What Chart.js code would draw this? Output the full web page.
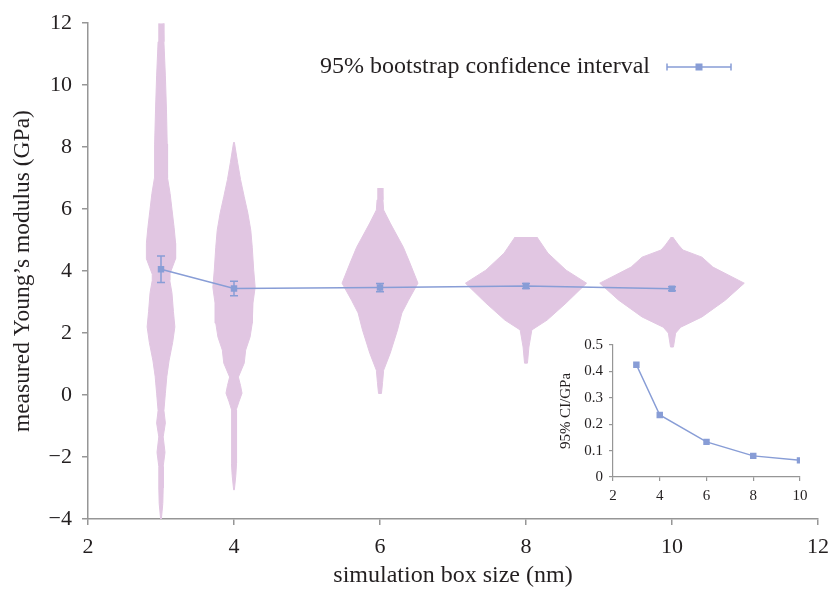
<!DOCTYPE html>
<html><head><meta charset="utf-8">
<script src="https://cdn.jsdelivr.net/npm/chart.js@4.4.0/dist/chart.umd.min.js"></script>
<style>
html,body{margin:0;padding:0;background:#fff;}
#wrap{position:relative;width:830px;height:590px;}
#main{position:absolute;left:0;top:0;}
#inset{position:absolute;left:540px;top:325px;}
</style></head><body>
<div id="wrap"><canvas id="main" width="830" height="590"></canvas><canvas id="inset" width="280" height="190"></canvas></div>
<script>
// ---- data ----
const boxSizes = [3, 4, 6, 8, 10];
const meanModulus = [4.06, 3.44, 3.47, 3.52, 3.43];
const ciHalfWidth = [0.425, 0.235, 0.133, 0.08, 0.063];
const xTicks = [2, 4, 6, 8, 10, 12];
const yTicks = [-4, -2, 0, 2, 4, 6, 8, 10, 12];
const insetXTicks = [2, 4, 6, 8, 10];
const insetYTicks = [0, 0.1, 0.2, 0.3, 0.4, 0.5];

// violin outlines: modulus levels and half widths (nm units)
const violin3Y = [12, 11.4, 10.3, 9.2, 8.1, 7.6, 7.0, 6.5, 6.0, 5.4, 4.9, 4.4, 3.9, 3.7, 3.3, 2.7, 2.2, 1.7, 1.1, 0.6, 0.06, -0.5, -0.9, -1.35, -1.85, -2.3, -3.0, -3.5, -4.0];
const violin3W = [0.03, 0.04, 0.06, 0.075, 0.085, 0.09, 0.09, 0.125, 0.15, 0.18, 0.2, 0.2, 0.12, 0.12, 0.15, 0.17, 0.19, 0.16, 0.11, 0.08, 0.06, 0.04, 0.06, 0.03, 0.055, 0.03, 0.03, 0.025, 0.005];
const violin4Y = [8.16, 7.5, 6.95, 6.4, 5.87, 5.32, 4.77, 4.03, 3.48, 2.97, 2.32, 1.87, 1.45, 1.03, 0.58, 0.3, 0.06, -0.2, -0.48, -1.1, -2.2, -2.6, -3.06];
const violin4W = [0.005, 0.05, 0.09, 0.14, 0.19, 0.23, 0.25, 0.27, 0.29, 0.26, 0.25, 0.22, 0.16, 0.14, 0.06, 0.09, 0.11, 0.07, 0.03, 0.035, 0.035, 0.025, 0.005];
const violin6Y = [6.68, 6.3, 5.97, 5.55, 4.77, 4.26, 3.61, 3.06, 2.65, 2.1, 1.35, 0.8, 0.4, 0.05];
const violin6W = [0.03, 0.04, 0.05, 0.14, 0.32, 0.41, 0.52, 0.39, 0.3, 0.24, 0.14, 0.05, 0.035, 0.02];
const violin8Y = [5.1, 4.58, 4.03, 3.61, 2.97, 2.42, 2.1, 1.55, 1.03];
const violin8W = [0.15, 0.3, 0.55, 0.83, 0.55, 0.29, 0.08, 0.04, 0.02];
const violin10Y = [5.1, 4.84, 4.68, 4.45, 4.13, 3.61, 3.06, 2.52, 2.19, 2.0, 1.55];
const violin10W = [0.01, 0.09, 0.15, 0.41, 0.56, 0.99, 0.73, 0.41, 0.12, 0.05, 0.02];

const legendText = '95% bootstrap confidence interval';
const xTitle = 'simulation box size (nm)';
const yTitle = 'measured Young\u2019s modulus (GPa)';
const insetYTitle = '95% CI/GPa';

// ---- styles ----
const SERIF = "'Liberation Serif', 'Times New Roman', serif";
const PINK = 'rgb(225,198,226)';
const BLUE = 'rgb(136,157,214)';
const AXIS = 'rgb(150,150,150)';
const TEXT = '#231f20';

function violinContour(center, ys, ws) {
  const pts = [];
  for (let i = 0; i < ys.length; i++) pts.push({x: center + ws[i], y: ys[i]});
  for (let i = ys.length - 1; i >= 0; i--) pts.push({x: center - ws[i], y: ys[i]});
  return pts;
}
function fmt(v) { return v < 0 ? '\u2212' + Math.abs(v) : String(v); }

const violins = [
  [3, violin3Y, violin3W], [4, violin4Y, violin4W], [6, violin6Y, violin6W],
  [8, violin8Y, violin8W], [10, violin10Y, violin10W]
];

const errorBarPlugin = {
  id: 'errorBars',
  afterDatasetsDraw(chart) {
    const xs = chart.scales.x, ys = chart.scales.y, ctx = chart.ctx;
    ctx.save();
    ctx.strokeStyle = BLUE; ctx.lineWidth = 1.5;
    boxSizes.forEach((b, i) => {
      const px = xs.getPixelForValue(b);
      const t = ys.getPixelForValue(meanModulus[i] + ciHalfWidth[i]);
      const btm = ys.getPixelForValue(meanModulus[i] - ciHalfWidth[i]);
      ctx.beginPath();
      ctx.moveTo(px, t); ctx.lineTo(px, btm);
      ctx.moveTo(px - 4, t); ctx.lineTo(px + 4, t);
      ctx.moveTo(px - 4, btm); ctx.lineTo(px + 4, btm);
      ctx.stroke();
    });
    ctx.restore();
  }
};

const legendPlugin = {
  id: 'customLegend',
  afterDraw(chart) {
    const ctx = chart.ctx;
    const y = 67;
    ctx.save();
    ctx.font = '24px ' + SERIF;
    ctx.fillStyle = TEXT;
    ctx.textBaseline = 'middle';
    ctx.textAlign = 'right';
    ctx.fillText(legendText, 650, y);
    ctx.strokeStyle = BLUE; ctx.lineWidth = 1.5;
    ctx.beginPath();
    ctx.moveTo(667, y); ctx.lineTo(731, y);
    ctx.moveTo(667, y - 3.5); ctx.lineTo(667, y + 3.5);
    ctx.moveTo(731, y - 3.5); ctx.lineTo(731, y + 3.5);
    ctx.stroke();
    ctx.fillStyle = BLUE;
    ctx.fillRect(699 - 3.5, y - 3.5, 7, 7);
    ctx.restore();
  }
};

const datasets = [{
  label: 'CI',
  data: boxSizes.map((b, i) => ({x: b, y: meanModulus[i]})),
  showLine: true,
  borderColor: BLUE,
  backgroundColor: BLUE,
  borderWidth: 1.5,
  pointStyle: 'rect',
  pointRadius: 3.5,
  fill: false
}];
violins.forEach(([c, ys, ws]) => {
  datasets.push({
    label: 'violin ' + c,
    data: violinContour(c, ys, ws),
    showLine: true,
    borderColor: PINK,
    backgroundColor: PINK,
    borderWidth: 1,
    pointRadius: 0,
    fill: 'shape',
    tension: 0
  });
});

new Chart(document.getElementById('main'), {
  type: 'scatter',
  data: {datasets},
  plugins: [errorBarPlugin, legendPlugin],
  options: {
    responsive: false,
    animation: false,
    layout: {padding: {top: 22, right: 12, left: 0, bottom: 0}},
    plugins: {legend: {display: false}, tooltip: {enabled: false}},
    scales: {
      x: {
        type: 'linear', min: 2, max: 12,
        afterBuildTicks: s => { s.ticks = xTicks.map(v => ({value: v})); },
        afterFit: s => { s.height = 71; s.paddingRight = 0; s.paddingLeft = 0; },
        ticks: {font: {family: SERIF, size: 22}, color: TEXT, padding: 9, callback: v => fmt(v), maxRotation: 0},
        grid: {drawOnChartArea: false, color: AXIS, tickLength: 6, lineWidth: 1.5},
        border: {display: true, color: AXIS, width: 1.5},
        title: {display: true, text: xTitle, font: {family: SERIF, size: 24}, color: TEXT, padding: {top: 0, bottom: 0}}
      },
      y: {
        type: 'linear', min: -4, max: 12,
        afterBuildTicks: s => { s.ticks = yTicks.map(v => ({value: v})); },
        afterFit: s => { s.width = 88; },
        ticks: {font: {family: SERIF, size: 22}, color: TEXT, padding: 10, callback: v => fmt(v)},
        grid: {drawOnChartArea: false, color: AXIS, tickLength: 6, lineWidth: 1.5},
        border: {display: true, color: AXIS, width: 1.5},
        title: {display: true, text: yTitle, font: {family: SERIF, size: 23.5}, color: TEXT, padding: {top: 9, bottom: 0}}
      }
    }
  }
});

new Chart(document.getElementById('inset'), {
  type: 'scatter',
  data: {datasets: [{
    label: 'CI width',
    data: boxSizes.map((b, i) => ({x: b, y: ciHalfWidth[i]})),
    showLine: true,
    borderColor: BLUE,
    backgroundColor: BLUE,
    borderWidth: 1.5,
    pointStyle: 'rect',
    pointRadius: 3.5
  }]},
  options: {
    responsive: false,
    animation: false,
    layout: {padding: {top: 20, right: 20, left: 0, bottom: 0}},
    plugins: {legend: {display: false}, tooltip: {enabled: false}},
    scales: {
      x: {
        type: 'linear', min: 2, max: 10,
        afterBuildTicks: s => { s.ticks = insetXTicks.map(v => ({value: v})); },
        afterFit: s => { s.height = 38; s.paddingRight = 0; s.paddingLeft = 0; },
        ticks: {font: {family: SERIF, size: 15}, color: TEXT, padding: 6, maxRotation: 0},
        grid: {drawOnChartArea: false, color: AXIS, tickLength: 4, lineWidth: 1.2},
        border: {display: true, color: AXIS, width: 1.2}
      },
      y: {
        type: 'linear', min: 0, max: 0.5,
        afterBuildTicks: s => { s.ticks = insetYTicks.map(v => ({value: v})); },
        afterFit: s => { s.width = 73; },
        ticks: {font: {family: SERIF, size: 15}, color: TEXT, padding: 6, callback: v => String(v)},
        grid: {drawOnChartArea: false, color: AXIS, tickLength: 4, lineWidth: 1.2},
        border: {display: true, color: AXIS, width: 1.2},
        title: {display: true, text: insetYTitle, font: {family: SERIF, size: 15}, color: TEXT, padding: {top: 17, bottom: 0}}
      }
    }
  }
});
</script>
</body></html>
